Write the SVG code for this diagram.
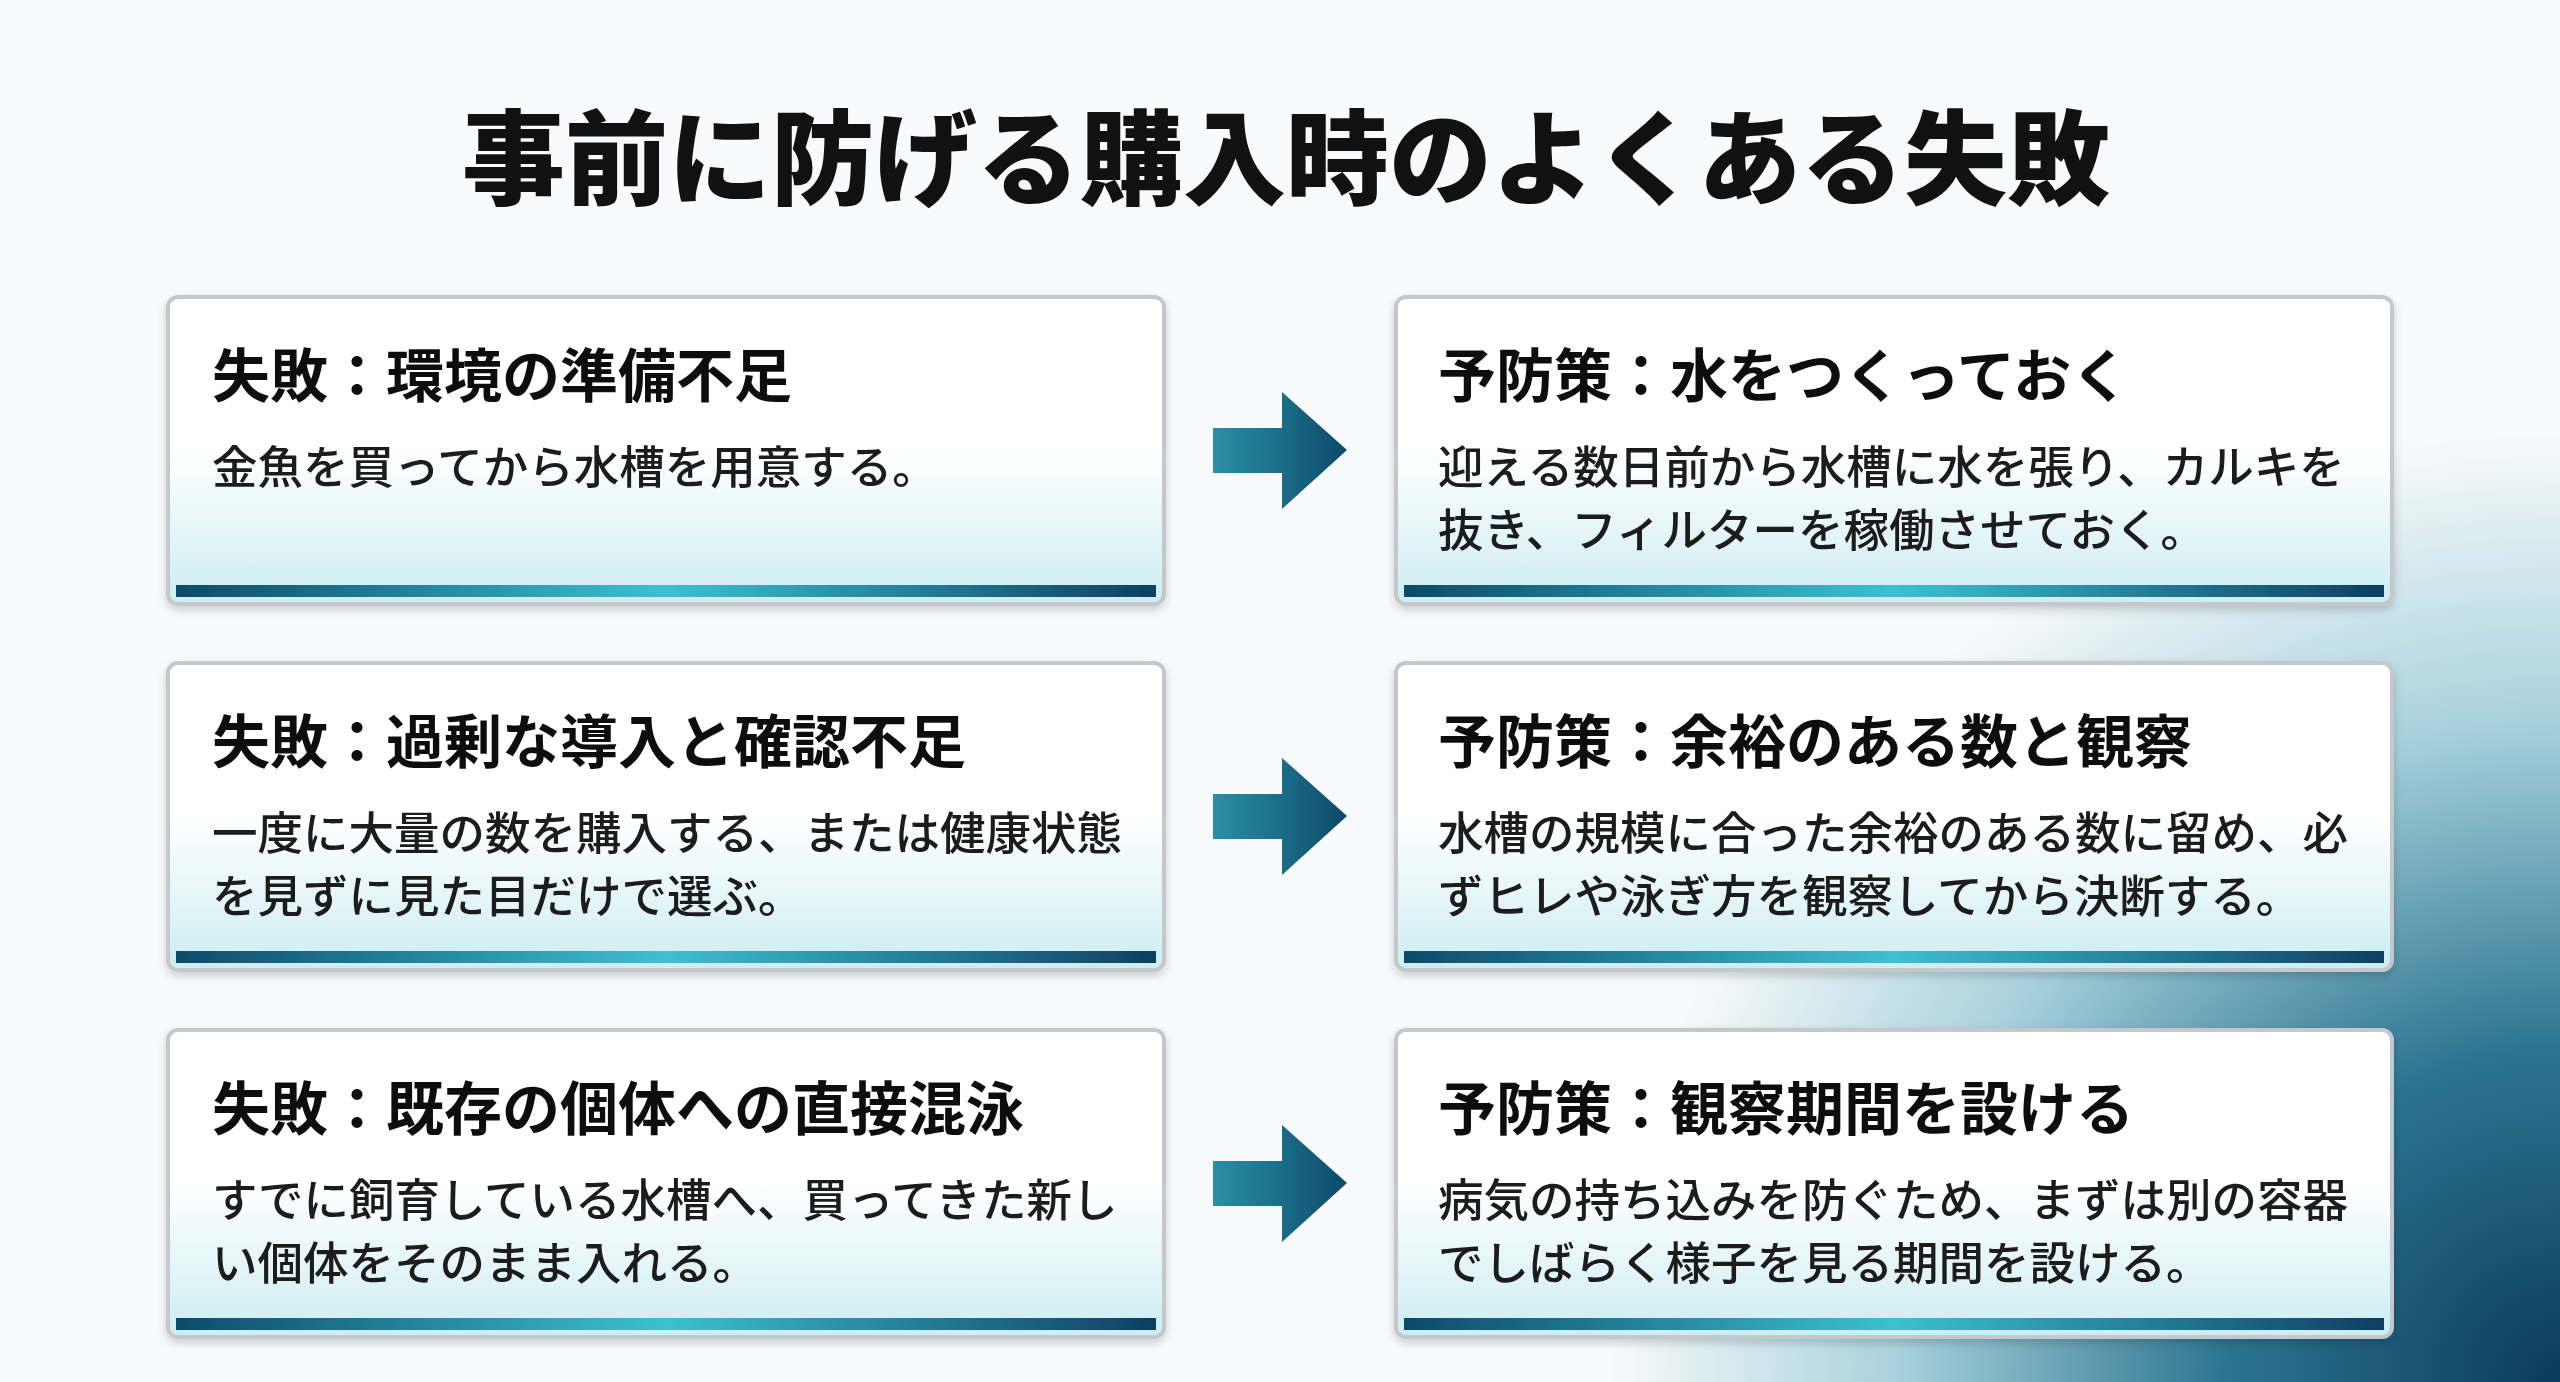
<svg xmlns="http://www.w3.org/2000/svg" width="2560" height="1382" viewBox="0 0 2560 1382">
<defs>
<style>
.t{font-family:"Noto Sans CJK JP","Noto Sans CJK SC",sans-serif;fill:#111}
.h{font-size:58px;font-weight:700}
.b{font-size:45.5px;font-weight:500;fill:#1a1a1a}
.ti{font-size:103px;font-weight:900}
.box{fill:url(#boxg);stroke:#c4c8cc;stroke-width:4}
.bar{fill:url(#barg)}
.arr{fill:url(#arrg)}
</style>
<radialGradient id="bg" cx="2560" cy="1382" r="950" gradientUnits="userSpaceOnUse">
<stop offset="0" stop-color="#0b3a5a"/><stop offset="0.35" stop-color="#2b7590"/><stop offset="0.7" stop-color="#a9d2dd"/><stop offset="1" stop-color="#f8fafb"/>
</radialGradient>
<linearGradient id="boxg" x1="0" y1="0" x2="0" y2="1">
<stop offset="0" stop-color="#ffffff"/><stop offset="0.5" stop-color="#ffffff"/><stop offset="1" stop-color="#cdedf2"/>
</linearGradient>
<linearGradient id="barg" x1="0" y1="0" x2="1" y2="0">
<stop offset="0" stop-color="#0e4a6a"/><stop offset="0.5" stop-color="#3cc0d2"/><stop offset="1" stop-color="#0e3f62"/>
</linearGradient>
<linearGradient id="arrg" x1="0" y1="0" x2="1" y2="0">
<stop offset="0" stop-color="#2a90a6"/><stop offset="1" stop-color="#0c4a6a"/>
</linearGradient>
<filter id="sh" x="-5%" y="-5%" width="110%" height="115%"><feDropShadow dx="0" dy="4" stdDeviation="5" flood-opacity="0.18"/></filter>
</defs>
<rect width="2560" height="1382" fill="#f8fafb"/>
<rect width="2560" height="1382" fill="url(#bg)"/>
<text class="t ti" x="1286" y="197" text-anchor="middle">事前に防げる購入時のよくある失敗</text>
<g id="fail1" filter="url(#sh)"><rect class="box" x="168" y="297" width="996" height="307" rx="10"/><rect class="bar" x="176" y="585" width="980" height="12"/>
<text class="t h" x="212" y="397">失敗：環境の準備不足</text><text class="t b" x="212" y="484">金魚を買ってから水槽を用意する。</text></g>
<g id="fix1" filter="url(#sh)"><rect class="box" x="1396" y="297" width="996" height="307" rx="10"/><rect class="bar" x="1404" y="585" width="980" height="12"/>
<text class="t h" x="1438" y="397">予防策：水をつくっておく</text><text class="t b" x="1438" y="484">迎える数日前から水槽に水を張り、カルキを</text><text class="t b" x="1438" y="547">抜き、フィルターを稼働させておく。</text></g>
<g id="fail2" filter="url(#sh)"><rect class="box" x="168" y="663" width="996" height="307" rx="10"/><rect class="bar" x="176" y="951" width="980" height="12"/>
<text class="t h" x="212" y="763">失敗：過剰な導入と確認不足</text><text class="t b" x="212" y="850">一度に大量の数を購入する、または健康状態</text><text class="t b" x="212" y="913">を見ずに見た目だけで選ぶ。</text></g>
<g id="fix2" filter="url(#sh)"><rect class="box" x="1396" y="663" width="996" height="307" rx="10"/><rect class="bar" x="1404" y="951" width="980" height="12"/>
<text class="t h" x="1438" y="763">予防策：余裕のある数と観察</text><text class="t b" x="1438" y="850">水槽の規模に合った余裕のある数に留め、必</text><text class="t b" x="1438" y="913">ずヒレや泳ぎ方を観察してから決断する。</text></g>
<g id="fail3" filter="url(#sh)"><rect class="box" x="168" y="1030" width="996" height="307" rx="10"/><rect class="bar" x="176" y="1318" width="980" height="12"/>
<text class="t h" x="212" y="1130">失敗：既存の個体への直接混泳</text><text class="t b" x="212" y="1217">すでに飼育している水槽へ、買ってきた新し</text><text class="t b" x="212" y="1280">い個体をそのまま入れる。</text></g>
<g id="fix3" filter="url(#sh)"><rect class="box" x="1396" y="1030" width="996" height="307" rx="10"/><rect class="bar" x="1404" y="1318" width="980" height="12"/>
<text class="t h" x="1438" y="1130">予防策：観察期間を設ける</text><text class="t b" x="1438" y="1217">病気の持ち込みを防ぐため、まずは別の容器</text><text class="t b" x="1438" y="1280">でしばらく様子を見る期間を設ける。</text></g>
<g id="connectors">
<path class="arr" d="M1213 428H1282V392L1347 450L1282 509V473H1213Z"/>
<path class="arr" d="M1213 794H1282V758L1347 816L1282 875V839H1213Z"/>
<path class="arr" d="M1213 1161H1282V1125L1347 1183L1282 1242V1206H1213Z"/>
</g>
</svg>
